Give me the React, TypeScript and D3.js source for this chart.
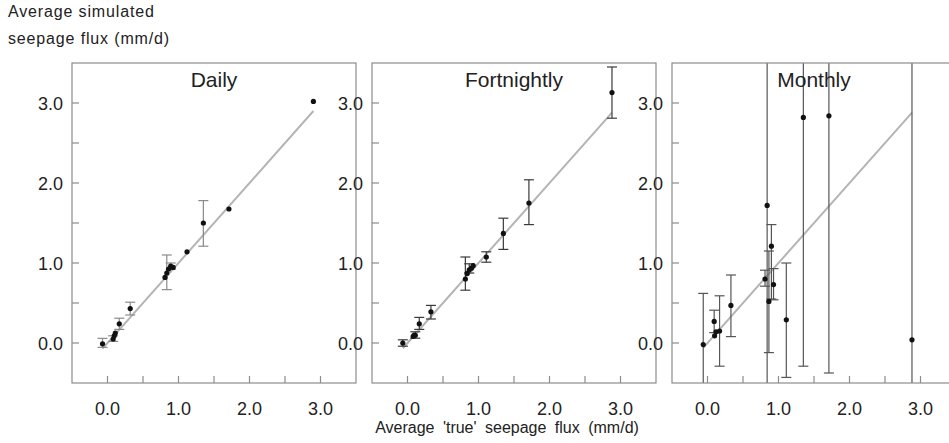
import React from "react";
import * as d3 from "d3";

const panelNames = ["Daily", "Fortnightly", "Monthly"];

// Daily
const dailyX = [-0.07, 0.08, 0.095, 0.11, 0.166, 0.32, 0.81, 0.835, 0.86, 0.89, 0.925, 1.12, 1.35, 1.71, 2.9];
const dailyY = [-0.01, 0.05, 0.09, 0.125, 0.24, 0.43, 0.82, 0.875, 0.925, 0.96, 0.945, 1.14, 1.5, 1.675, 3.02];
const dailyLo = [-0.054, 0.02, 0.09, 0.125, 0.17, 0.35, 0.82, 0.667, 0.925, 0.92, 0.945, 1.14, 1.21, 1.675, 3.02];
const dailyHi = [0.058, 0.09, 0.09, 0.125, 0.31, 0.51, 0.82, 1.1, 0.925, 1.0, 0.945, 1.14, 1.78, 1.675, 3.02];

// Fortnightly
const fortX = [-0.066, 0.08, 0.095, 0.11, 0.166, 0.33, 0.815, 0.84, 0.87, 0.9, 0.925, 1.11, 1.35, 1.71, 2.88];
const fortY = [0.0, 0.083, 0.1, 0.096, 0.24, 0.39, 0.8, 0.87, 0.915, 0.935, 0.966, 1.075, 1.37, 1.75, 3.13];
const fortLo = [-0.04, 0.083, 0.1, 0.06, 0.17, 0.3, 0.66, 0.87, 0.875, 0.935, 0.966, 1.01, 1.17, 1.48, 2.81];
const fortHi = [0.04, 0.083, 0.1, 0.14, 0.32, 0.47, 1.075, 0.87, 0.99, 0.935, 0.966, 1.14, 1.56, 2.04, 3.45];

// Monthly
const monX = [-0.06, 0.094, 0.1, 0.12, 0.17, 0.33, 0.81, 0.84, 0.865, 0.9, 0.93, 1.11, 1.35, 1.71, 2.88];
const monY = [-0.02, 0.27, 0.09, 0.14, 0.15, 0.47, 0.8, 1.72, 0.52, 1.21, 0.73, 0.29, 2.82, 2.84, 0.04];
const monLo = [-1.0, 0.13, 0.09, 0.14, -0.29, 0.08, 0.71, -1.0, -0.12, 0.55, 0.54, -0.43, -0.29, -0.375, -1.0];
const monHi = [0.62, 0.41, 0.09, 0.14, 0.59, 0.85, 0.91, 5.0, 1.15, 1.48, 0.93, 1.0, 5.0, 5.0, 5.0];

const majorTicks = [0, 1, 2, 3];
const minorTicks = [-0.5, 0.5, 1.5, 2.5, 3.5];
const tickLabels = ["0.0", "1.0", "2.0", "3.0"];

const yTitle = ["Average simulated", "seepage flux (mm/d)"];
const xTitle = "Average 'true' seepage flux (mm/d)";

const panelsX = [dailyX, fortX, monX];
const panelsY = [dailyY, fortY, monY];
const panelsLo = [dailyLo, fortLo, monLo];
const panelsHi = [dailyHi, fortHi, monHi];
const barColors = ["#8a8a8a", "#3a3a3a", "#555555"];

export default function App() {
  const W = 949, H = 443;
  const lefts = [72, 372, 672];
  const pw = 284, top = 63, ph = 320;
  const y = d3.scaleLinear().domain([-0.5, 3.5]).range([top + ph, top]);
  const font = "'Liberation Sans', Arial, sans-serif";
  const textColor = "#222";
  const frame = "#8c8c8c";

  return (
    <svg width={W} height={H} style={{ position: "absolute", left: 0, top: 0, background: "#fff" }}>
      <defs>
        {lefts.map((l, i) => (
          <clipPath id={`clip${i}`} key={i}>
            <rect x={l} y={top} width={pw} height={ph} />
          </clipPath>
        ))}
      </defs>
      <rect x={0} y={0} width={W} height={H} fill="#fff" />
      {yTitle.map((t, i) => (
        <text key={t} x={8} y={17 + i * 27} fontFamily={font} fontSize={16} letterSpacing={0.85} fill={textColor}>{t}</text>
      ))}
      {lefts.map((l, pi) => {
        const x = d3.scaleLinear().domain([-0.5, 3.5]).range([l, l + pw]);
        const xs = panelsX[pi], ys = panelsY[pi], lo = panelsLo[pi], hi = panelsHi[pi];
        const xmin = d3.min(xs)!, xmax = d3.max(xs)!;
        const line = d3.line<number>().x((v) => x(v)).y((v) => y(v))([xmin, xmax])!;
        const allY = [...majorTicks, ...minorTicks.filter((v) => v > -0.5 && v < 3.5)];
        return (
          <g key={pi}>
            <g clipPath={`url(#clip${pi})`}>
              <path d={line} stroke="#b4b4b4" strokeWidth={2} fill="none" />
              {xs.map((xv, k) =>
                hi[k] - lo[k] > 0.001 ? (
                  <g key={k} stroke={barColors[pi]} strokeWidth={1.2}>
                    <line x1={x(xv)} x2={x(xv)} y1={y(lo[k])} y2={y(hi[k])} />
                    <line x1={x(xv) - 5} x2={x(xv) + 5} y1={y(lo[k])} y2={y(lo[k])} />
                    <line x1={x(xv) - 5} x2={x(xv) + 5} y1={y(hi[k])} y2={y(hi[k])} />
                  </g>
                ) : null
              )}
              {xs.map((xv, k) => (
                <circle key={k} cx={x(xv)} cy={y(ys[k])} r={2.6} fill="#111" />
              ))}
            </g>
            <rect x={l} y={top} width={pw} height={ph} fill="none" stroke={frame} strokeWidth={1.2} />
            {allY.map((v) => (
              <line key={`yt${v}`} x1={l} x2={l + 7} y1={y(v)} y2={y(v)} stroke={frame} strokeWidth={1.2} />
            ))}
            {allY.map((v) => (
              <line key={`xt${v}`} x1={x(v)} x2={x(v)} y1={top + ph} y2={top + ph - 7} stroke={frame} strokeWidth={1.2} />
            ))}
            {majorTicks.map((v, k) => (
              <text key={`yl${v}`} x={l - 9} y={y(v) + 6.5} textAnchor="end" fontFamily={font} fontSize={18} fill={textColor}>{tickLabels[k]}</text>
            ))}
            {majorTicks.map((v, k) => (
              <text key={`xl${v}`} x={x(v)} y={415} textAnchor="middle" fontFamily={font} fontSize={18} fill={textColor}>{tickLabels[k]}</text>
            ))}
            <text x={l + pw / 2} y={87} textAnchor="middle" fontFamily={font} fontSize={21} fill={textColor}>{panelNames[pi]}</text>
          </g>
        );
      })}
      <text x={507} y={433} textAnchor="middle" fontFamily={font} fontSize={16} wordSpacing={4} fill={textColor}>{xTitle}</text>
    </svg>
  );
}
